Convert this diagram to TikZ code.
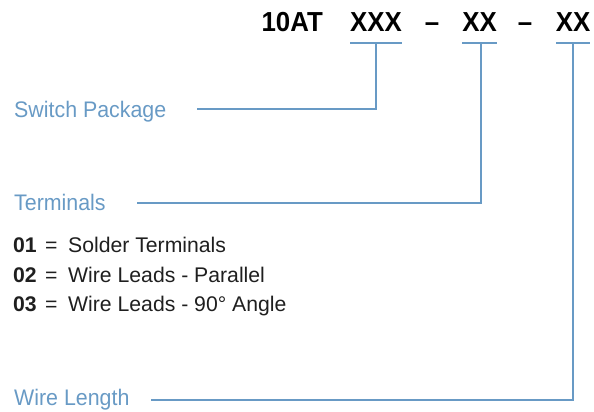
\documentclass[tikz,border=0pt]{standalone}
\usepackage{fontspec}
\setmainfont{Liberation Sans}
\newfontfamily\lblfont[FakeStretch=0.95]{Liberation Sans}
\newfontfamily\codefont[FakeStretch=0.94]{Liberation Sans}
\begin{document}
\begin{tikzpicture}[x=1pt,y=-1pt,
  lbl/.style={inner sep=0pt, anchor=base west, text=blueline, font=\lblfont\fontsize{22.5}{26}\selectfont},
  code/.style={inner sep=0pt, anchor=base, font=\codefont\fontsize{27.5}{30}\selectfont\bfseries},
  row/.style={inner sep=0pt, anchor=base west, text=black!88, font=\fontsize{21.2}{24}\selectfont},
  rowb/.style={row, font=\fontsize{21.2}{24}\selectfont\bfseries},
  conn/.style={draw=blueline, line width=2.6pt, line cap=butt}]
\definecolor{blueline}{RGB}{104,154,197}
\useasboundingbox (0,0) rectangle (594,412);
% header code
\node[code, anchor=base east] (c0) at (323,32) {10AT};
\node[code] (c1) at (376,32) {XXX};
\node[code] (d1) at (432,32) {–};
\node[code] (c2) at (479.5,32) {XX};
\node[code] (d2) at (525,32) {–};
\node[code] (c3) at (573,32) {XX};
% underlines
\coordinate (u1a) at (350,43); \coordinate (u1b) at (402,43); \coordinate (u1m) at (376,43);
\coordinate (u2a) at (462,43); \coordinate (u2b) at (497,43); \coordinate (u2m) at (481,43);
\coordinate (u3a) at (556,43); \coordinate (u3b) at (590,43); \coordinate (u3m) at (573,43);
\draw[conn] (u1a) -- (u1b);
\draw[conn] (u2a) -- (u2b);
\draw[conn] (u3a) -- (u3b);
% labels
\node[lbl] (sp) at (14,117) {Switch Package};
\node[lbl] (te) at (14,210) {Terminals};
\node[lbl] (wl) at (14,405) {Wire Length};
\coordinate (s0) at (197,109);
\coordinate (t0) at (137,203);
\coordinate (w0) at (151,400);
\draw[conn] (s0) -- (u1m |- s0) -- (u1m);
\draw[conn] (t0) -- (u2m |- t0) -- (u2m);
\draw[conn] (w0) -- (u3m |- w0) -- (u3m);
% list
\node[rowb] (n1) at (13,252) {01};
\node[row] (e1) at (45,252) {=};
\node[row] (r1) at (68,252) {Solder Terminals};
\node[rowb] (n2) at (13,282) {02};
\node[row] (e2) at (45,282) {=};
\node[row] (r2) at (68,282) {Wire Leads - Parallel};
\node[rowb] (n3) at (13,311) {03};
\node[row] (e3) at (45,311) {=};
\node[row] (r3) at (68,311) {Wire Leads - 90° Angle};
\end{tikzpicture}
\end{document}
